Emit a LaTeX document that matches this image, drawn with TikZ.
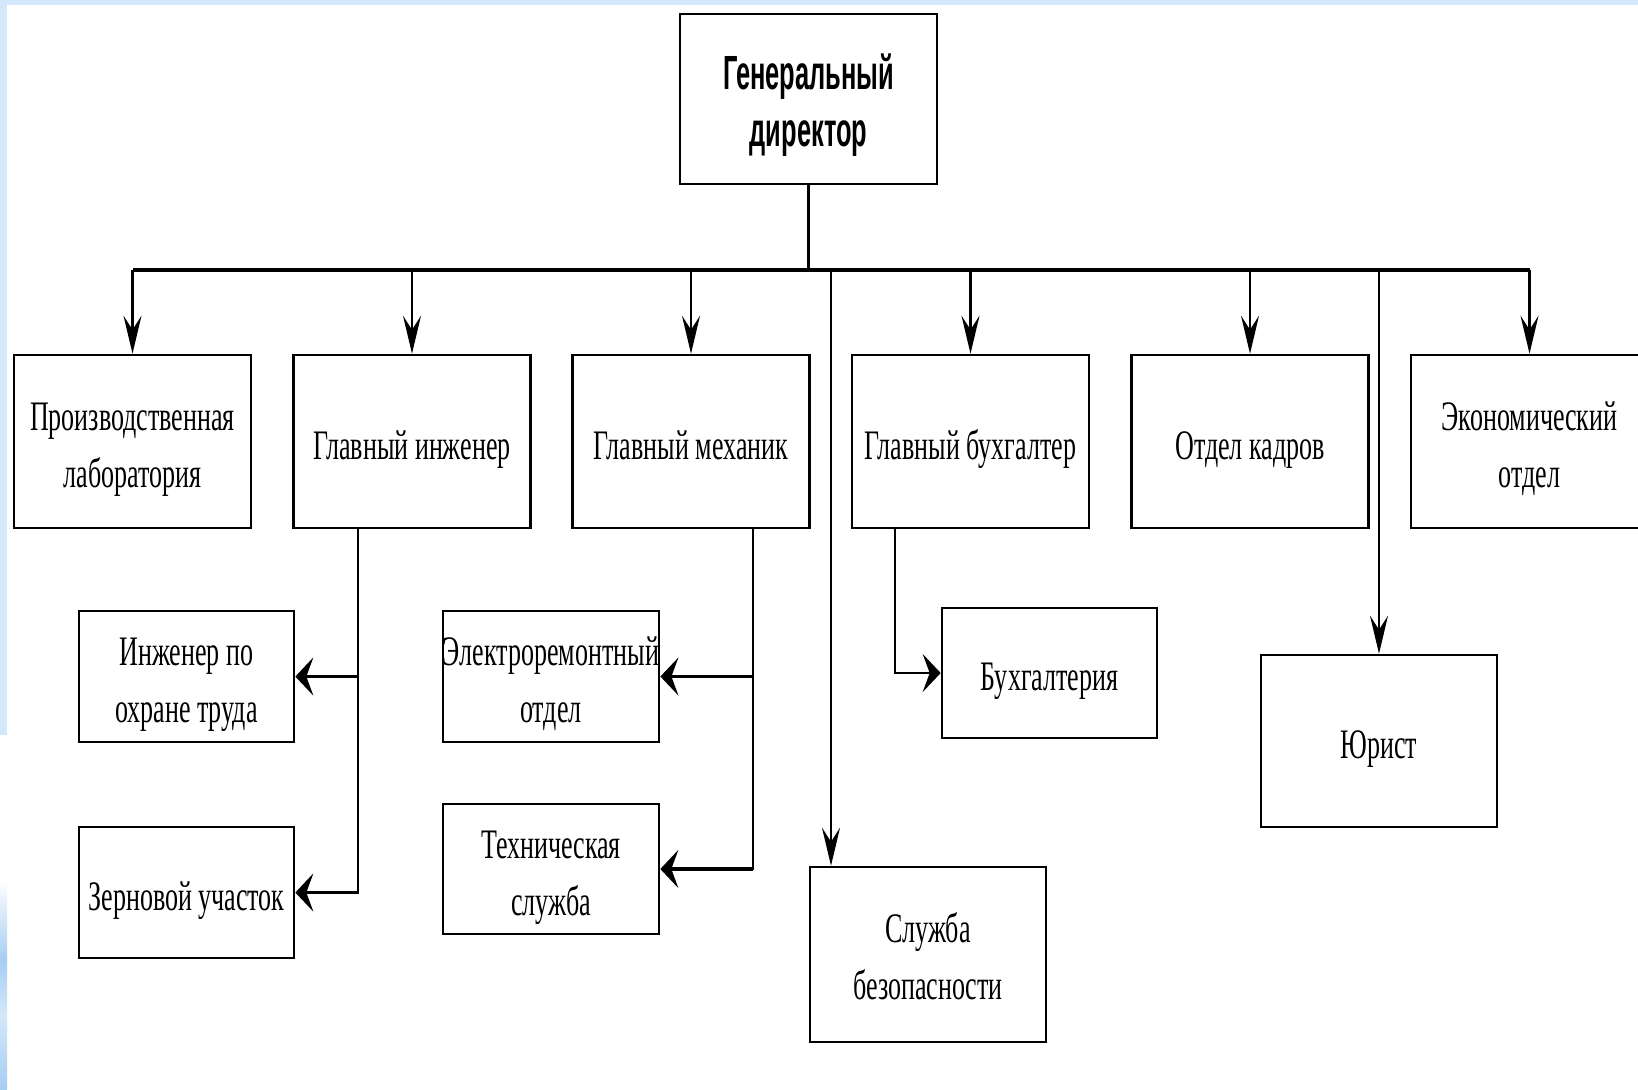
\documentclass[tikz,border=0pt]{standalone}
\usepackage{fontspec}
\setmainfont{Liberation Serif}
\newfontfamily\serifc[FakeStretch=0.62]{Liberation Serif}
\newfontfamily\sansc[FakeStretch=0.53]{Liberation Sans}
\usetikzlibrary{arrows.meta}
\definecolor{edgeblue}{HTML}{D3E8FA}
\definecolor{deepblue}{HTML}{A6CDF2}
% struts fixing the vertical placement of the node texts
\newcommand\Tp{\rule{0pt}{25pt}}
\newcommand\Bt{\rule[-7.5pt]{0pt}{7.5pt}}
\newcommand\BtS{\rule[-9pt]{0pt}{9pt}}
\newcommand\TpG{\rule{0pt}{26pt}}
\newcommand\BtG{\rule[-7.4pt]{0pt}{7.4pt}}
\begin{document}
\begin{tikzpicture}[x=0.5pt,y=-0.5pt,
  box/.style={draw=black, line width=1.3pt, fill=white, inner sep=0pt, align=center,
    minimum height=86.5pt, minimum width=118.5pt,
    font=\serifc\fontsize{21}{28.5}\selectfont},
  small/.style={minimum width=107.5pt, minimum height=65.5pt},
  vline/.style={line width=1.15pt, line cap=rect},
  varrow/.style={line width=1.15pt, -{Stealth[length=19pt,width=9pt,inset=7pt]}},
  harrow/.style={line width=1.7pt, -{Stealth[length=9pt,width=19pt,inset=3.5pt]}},
]
\useasboundingbox (0,0) rectangle (1638,1089);
\clip (0,0) rectangle (1638,1089);
\fill[white] (0,0) rectangle (1638,1089);
% background strips
\fill[edgeblue] (0,0) rectangle (1638,5);
\fill[edgeblue] (0,0) rectangle (7,735);
\shade[top color=white, bottom color=deepblue] (0,880) rectangle (7,960);
\shade[top color=deepblue, bottom color=edgeblue] (0,960) rectangle (7,1015);
\shade[top color=edgeblue, bottom color=deepblue] (0,1015) rectangle (7,1089);

% nodes
\node[box, font=\sansc\bfseries\fontsize{24}{28.5}\selectfont,
      minimum width=128.5pt, minimum height=85pt] (gd) at (808.5,99) {\TpG Генеральный\\директор\BtG};
\node[box] (lab)  at (132.5,441.5) {\Tp Производственная\\лаборатория\Bt};
\node[box] (ing)  at (412,441.5)   {\Tp Главный инженер\Bt};
\node[box] (mech) at (691,441.5)   {\Tp Главный механик\Bt};
\node[box] (buh)  at (970.5,441.5) {\Tp Главный бухгалтер\Bt};
\node[box] (kadr) at (1250,441.5)  {\Tp Отдел кадров\Bt};
\node[box] (econ) at (1529.5,441.5) {\Tp Экономический\\отдел\Bt};
\node[box, small] (iot)  at (186.5,676.5) {\Tp Инженер по\\охране труда\Bt};
\node[box, small] (zern) at (186.5,892.5) {\Tp Зерновой участок\Bt};
\node[box, small, minimum width=108pt] (elec) at (551,676.5) {\Tp Электроремонтный\\отдел\Bt};
\node[box, small, minimum width=108pt, minimum height=65pt] (tech) at (551,869) {\Tp Техническая\\служба\Bt};
\node[box, small, minimum height=65pt] (bux) at (1049.5,673) {\Tp Бухгалтерия\Bt};
\node[box, minimum width=118pt, minimum height=86pt] (yur) at (1379,741) {\Tp Юрист\Bt};
\node[box, minimum width=118pt, minimum height=87.5pt] (sec) at (928,954.5) {\Tp Служба\\безопасности\BtS};

% connectors
\coordinate (busL) at (132,270);
\draw[line width=1.65pt] (lab.north |- busL) -- (econ.north |- busL);
\draw[vline] (gd.south) -- (gd.south |- busL);
\foreach \n in {lab,ing,mech,buh,kadr,econ}
  \draw[varrow] (\n.north |- busL) -- (\n.north);
\coordinate (secJ) at (831,270);
\draw[varrow] (secJ) -- (secJ |- sec.north);
\draw[varrow] (yur.north |- busL) -- (yur.north);

\coordinate (ingB) at (358,528);
\draw[vline] (ingB) -- (ingB |- zern.east);
\draw[harrow] (ingB |- iot.east) -- (iot.east);
\draw[harrow] (ingB |- zern.east) -- (zern.east);

\coordinate (mechB) at (753,528);
\draw[vline] (mechB) -- (mechB |- tech.east);
\draw[harrow] (mechB |- elec.east) -- (elec.east);
\draw[harrow] (mechB |- tech.east) -- (tech.east);

\coordinate (buhB) at (895,528);
\draw[harrow, line width=1.35pt] (buhB) |- (bux.west);
\end{tikzpicture}
\end{document}
